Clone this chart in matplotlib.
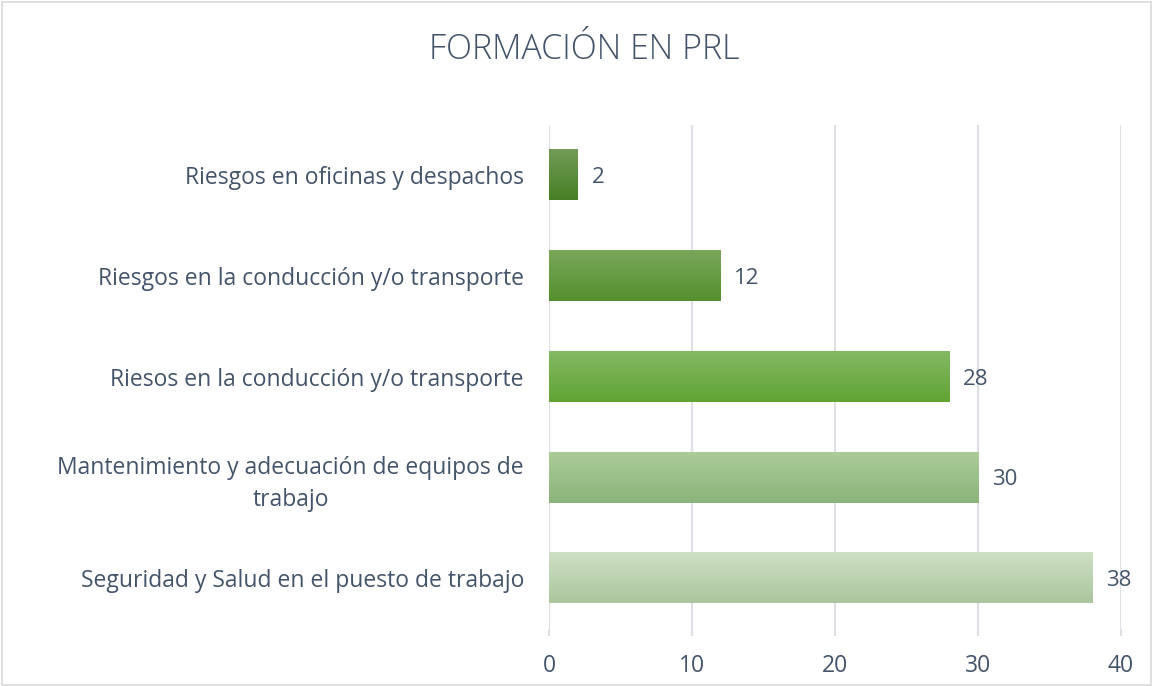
import numpy as np
import matplotlib
matplotlib.use("Agg")
import matplotlib.pyplot as plt
from matplotlib.colors import LinearSegmentedColormap

# datos
categorias = [
    "Riesgos en oficinas y despachos",
    "Riesgos en la conducción y/o transporte",
    "Riesos en la conducción y/o transporte",
    "Mantenimiento y adecuación de equipos de\ntrabajo",
    "Seguridad y Salud en el puesto de trabajo",
]
valores = [2, 12, 28, 30, 38]
ticks_x = [0, 10, 20, 30, 40]
titulo = "FORMACIÓN EN PRL"

# degradado (arriba, abajo) de cada barra
degradados = [
    ("#729c58", "#477e23"),
    ("#79a75b", "#548f2d"),
    ("#83b964", "#61a434"),
    ("#abcc99", "#8cb47a"),
    ("#cee0c4", "#abc59e"),
]

texto = "#44546a"
rejilla = "#dde1e6"

plt.rcParams['font.family'] = ['Open Sans', 'DejaVu Sans']

fig = plt.figure(figsize=(11.53, 6.86), dpi=100)
ax = fig.add_axes([0.4761, 0.0838, 0.4961, 0.7347])

pos = np.arange(len(categorias))
barras = ax.barh(pos, valores, height=0.5, color="none", zorder=3)

grad = np.linspace(0, 1, 256).reshape(-1, 1)
for b, (c1, c2) in zip(barras, degradados):
    cmap = LinearSegmentedColormap.from_list("g", [c1, c2])
    x0, y0 = b.get_x(), b.get_y()
    w, h = b.get_width(), b.get_height()
    ax.imshow(grad, cmap=cmap, aspect="auto", interpolation="bicubic",
              extent=(x0, x0 + w, y0 + h, y0), zorder=3)
    ax.annotate(str(int(w)), (x0 + w, y0 + h / 2), xytext=(10, 0),
                textcoords="offset points", va="center_baseline", ha="left",
                fontsize=16, color=texto)

ax.set_xlim(0, 40)
ax.set_ylim(len(categorias) - 0.5, -0.5)
ax.set_xticks(ticks_x)
ax.set_yticks(pos)
ax.set_yticklabels(categorias, multialignment="center", linespacing=1.4)
ax.tick_params(axis="y", length=0, pad=18, labelsize=16.5, labelcolor=texto)
ax.tick_params(axis="x", length=5, width=1.5, color=rejilla, pad=13,
               labelsize=16.5, labelcolor=texto)
ax.grid(axis="x", color=rejilla, linewidth=1.5, zorder=0)
for s in ax.spines.values():
    s.set_visible(False)

fig.text(0.507, 0.927, titulo, ha="center", va="center", fontsize=24.5,
         color=texto, fontweight="light")

# borde del grafico
fig.patches.append(plt.Rectangle((0.002, 0.002), 0.996, 0.995,
                                 transform=fig.transFigure, fill=False,
                                 edgecolor="#d9d9d9", linewidth=1.2))

fig.savefig("out.png", dpi=100)
